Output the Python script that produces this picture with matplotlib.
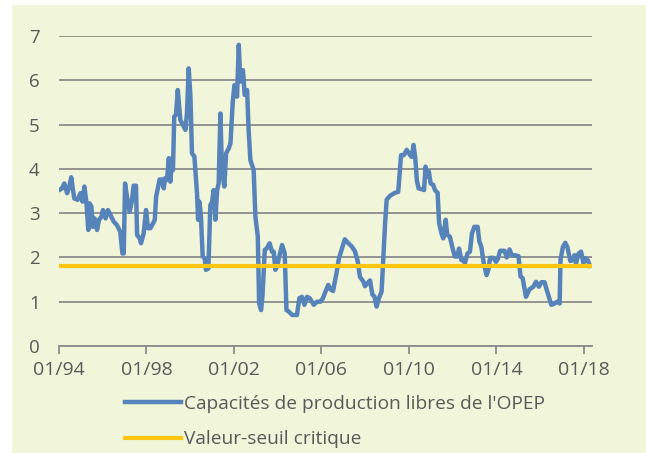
import matplotlib
matplotlib.use("Agg")
import matplotlib.pyplot as plt
from matplotlib.patches import Rectangle

# Spare OPEC capacity (mb/d), dates as decimal years
years = [
    1994.00, 1994.14, 1994.24, 1994.37, 1994.47, 1994.56, 1994.64, 1994.70, 1994.85, 1994.98,
    1995.07, 1995.16, 1995.25, 1995.34, 1995.40, 1995.48, 1995.55, 1995.63, 1995.74, 1995.83,
    1995.94, 1996.01, 1996.13, 1996.24, 1996.35, 1996.50, 1996.65, 1996.80, 1996.90, 1996.96,
    1997.02, 1997.11, 1997.23, 1997.34, 1997.41, 1997.52, 1997.57, 1997.69, 1997.75, 1997.87,
    1997.98, 1998.07, 1998.18, 1998.30, 1998.38, 1998.44, 1998.60, 1998.70, 1998.79, 1998.85,
    1998.94, 1999.02, 1999.09, 1999.17, 1999.21, 1999.27, 1999.35, 1999.43, 1999.55, 1999.67,
    1999.78, 1999.85, 1999.93, 2000.01, 2000.08, 2000.19, 2000.31, 2000.36, 2000.42, 2000.49,
    2000.57, 2000.66, 2000.72, 2000.83, 2000.92, 2001.00, 2001.07, 2001.15, 2001.23, 2001.30,
    2001.38, 2001.45, 2001.56, 2001.64, 2001.76, 2001.84, 2001.94, 2002.02, 2002.06, 2002.14,
    2002.22, 2002.29, 2002.34, 2002.41, 2002.49, 2002.60, 2002.67, 2002.75, 2002.90, 2002.98,
    2003.09, 2003.15, 2003.24, 2003.30, 2003.41, 2003.51, 2003.63, 2003.74, 2003.82, 2003.89,
    2003.97, 2004.05, 2004.20, 2004.32, 2004.40, 2004.50, 2004.66, 2004.88, 2004.99, 2005.11,
    2005.22, 2005.34, 2005.46, 2005.65, 2005.80, 2005.95, 2006.07,
    2006.16, 2006.31, 2006.43, 2006.53, 2006.69, 2006.80, 2006.92, 2007.07, 2007.23, 2007.38,
    2007.53, 2007.66, 2007.76, 2007.91, 2007.99, 2008.11, 2008.22, 2008.33, 2008.42, 2008.52,
    2008.63, 2008.75, 2008.83, 2008.91, 2008.98,
    2009.13, 2009.36, 2009.51, 2009.64, 2009.77, 2009.90, 2010.05, 2010.13, 2010.21, 2010.29,
    2010.36, 2010.44, 2010.59, 2010.69, 2010.76, 2010.85, 2010.91, 2010.99, 2011.11, 2011.19,
    2011.31, 2011.38, 2011.49, 2011.57, 2011.68, 2011.75, 2011.87, 2012.00, 2012.10, 2012.21,
    2012.29, 2012.40, 2012.50, 2012.56, 2012.68, 2012.79, 2012.88, 2012.99, 2013.14, 2013.22,
    2013.31, 2013.42, 2013.55, 2013.63, 2013.71, 2013.86, 2013.98, 2014.07, 2014.17, 2014.37,
    2014.47, 2014.60, 2014.70, 2014.82, 2015.01, 2015.10, 2015.20, 2015.35, 2015.51, 2015.69,
    2015.81, 2015.94, 2016.06, 2016.20, 2016.28, 2016.40, 2016.51, 2016.66, 2016.77, 2016.89,
    2016.93, 2017.04, 2017.15, 2017.24, 2017.38, 2017.50, 2017.57, 2017.64, 2017.76, 2017.87,
    2017.98, 2018.07, 2018.17, 2018.28,
]
spare = [
    3.52, 3.56, 3.67, 3.45, 3.60, 3.81, 3.52, 3.33, 3.30, 3.45,
    3.26, 3.60, 3.26, 2.62, 3.22, 3.15, 2.69, 2.88, 2.62, 2.85,
    2.92, 3.07, 2.88, 3.07, 2.96, 2.81, 2.73, 2.58, 2.09, 2.09,
    3.67, 3.37, 3.03, 3.30, 3.62, 3.62, 2.51, 2.43, 2.32, 2.54,
    3.07, 2.66, 2.66, 2.77, 2.85, 3.37, 3.76, 3.76, 3.56, 3.79,
    3.75, 4.24, 3.71, 4.24, 3.97, 5.18, 5.22, 5.78, 5.10, 4.99,
    4.88, 5.25, 6.27, 5.63, 4.35, 4.28, 3.45, 2.85, 3.26, 2.92,
    2.02, 1.98, 1.72, 1.75, 3.18, 3.26, 3.52, 2.85, 3.52, 3.67,
    5.25, 3.97, 3.60, 4.35, 4.46, 4.58, 5.48, 5.89, 5.89, 5.63,
    6.80, 5.97, 6.01, 6.23, 5.67, 5.78, 4.88, 4.20, 3.97, 2.92,
    2.47, 0.96, 0.81, 1.11, 2.17, 2.21, 2.32, 2.13, 2.13, 1.72,
    1.79, 1.98, 2.28, 2.09, 0.81, 0.78, 0.70, 0.70, 1.08, 1.11,
    0.93, 1.11, 1.08, 0.93, 1.00, 1.00, 1.08,
    1.20, 1.38, 1.27, 1.24, 1.65, 1.98, 2.17, 2.41, 2.32, 2.25,
    2.14, 1.91, 1.56, 1.46, 1.35, 1.42, 1.48, 1.16, 1.12, 0.89,
    1.08, 1.23, 2.02, 2.77, 3.30,
    3.39, 3.46, 3.48, 4.31, 4.31, 4.43, 4.31, 4.27, 4.54, 4.24,
    3.75, 3.56, 3.54, 3.52, 4.05, 3.82, 3.94, 3.67, 3.64, 3.52,
    3.46, 2.77, 2.54, 2.43, 2.85, 2.51, 2.47, 2.20, 2.02, 2.02,
    2.20, 1.94, 1.94, 1.87, 2.09, 2.13, 2.54, 2.69, 2.69, 2.36,
    2.24, 1.87, 1.60, 1.72, 1.99, 1.99, 1.90, 1.97, 2.15, 2.15,
    2.00, 2.18, 2.05, 2.05, 2.03, 1.57, 1.53, 1.11, 1.28, 1.34,
    1.45, 1.34, 1.44, 1.44, 1.30, 1.11, 0.93, 0.96, 1.00, 0.96,
    1.94, 2.24, 2.33, 2.24, 1.92, 1.94, 2.05, 1.87, 2.09, 2.13,
    1.87, 1.98, 1.94, 1.81,
]
threshold = 1.8

tick_years = [1994, 1998, 2002, 2006, 2010, 2014, 2018]
tick_labels = ['01/94', '01/98', '01/02', '01/06', '01/10', '01/14', '01/18']
label_spare = "Capacités de production libres de l'OPEP"
label_threshold = 'Valeur-seuil critique'

plt.rcParams['font.family'] = ['Open Sans', 'DejaVu Sans']

bg = '#f1f5da'
txt = '#595959'
grid = '#8c8c8c'

fig = plt.figure(figsize=(6.46, 4.53), dpi=100, facecolor='white')
fig.patches.append(Rectangle((12 / 646, 0), 1, 1 - 5 / 453, transform=fig.transFigure,
                             facecolor=bg, edgecolor='none', zorder=-10))

ax = fig.add_axes([59 / 646, 1 - 346 / 453, (592 - 59) / 646, (346 - 36) / 453])
ax.set_facecolor('none')

ax.plot(years, spare, color='#5683ba', lw=3.2, solid_joinstyle='round',
        label=label_spare, zorder=3)
ax.axhline(threshold, color='#fcc611', lw=3.0, label=label_threshold, zorder=4)

ax.set_xlim(1994, 2018.37)
ax.set_ylim(0, 7)
ax.set_yticks(range(0, 8))
ax.yaxis.grid(True, color=grid, lw=1.3)
ax.set_axisbelow(True)
for s in ['top', 'right', 'left']:
    ax.spines[s].set_visible(False)
ax.spines['bottom'].set_color(grid)
ax.spines['bottom'].set_linewidth(1.3)

ax.set_xticks(tick_years)
ax.set_xticklabels(tick_labels)
ax.tick_params(axis='x', direction='out', length=6, width=1.3, color=grid,
               labelsize=14, labelcolor=txt, pad=5)
ax.tick_params(axis='y', length=0, labelsize=13.5, labelcolor=txt, pad=14)

ax.legend(loc='upper left', bbox_to_anchor=(125 / 646, 1 - 395 / 453),
          bbox_transform=fig.transFigure, frameon=False, fontsize=13.8,
          labelcolor=txt, handlelength=2.9, handletextpad=0.2,
          borderpad=0, borderaxespad=0, labelspacing=0.9)

fig.savefig('out.png', dpi=100, facecolor='white')
